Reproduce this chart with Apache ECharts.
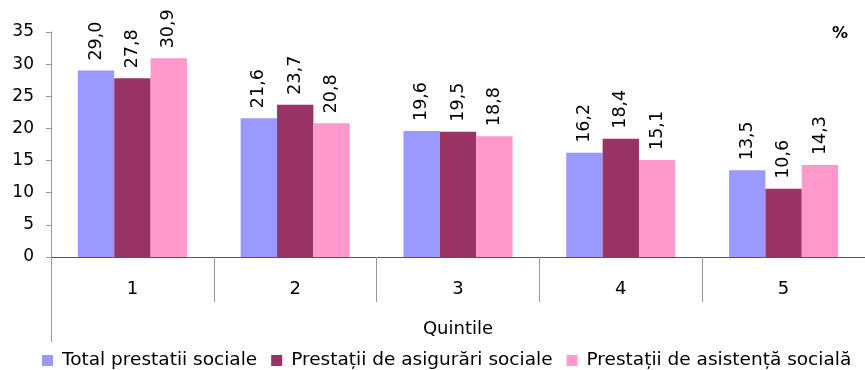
<!DOCTYPE html>
<html>
<head>
<meta charset="utf-8">
<script src="https://cdn.jsdelivr.net/npm/echarts@6/dist/echarts.min.js"></script>
<style>
  html, body { margin: 0; padding: 0; background: #fff; }
  #chart { width: 865px; height: 370px; }
</style>
</head>
<body>
<div id="chart"></div>
<script>
// Quintile categories and shares (%) per benefit type
const quintiles = ['1', '2', '3', '4', '5'];
const seriesNames = [
  'Total prestatii sociale',
  'Prestații de asigurări sociale',
  'Prestații de asistență socială'
];
const totalBenefits = [29.0, 21.6, 19.6, 16.2, 13.5];
const insuranceBenefits = [27.8, 23.7, 19.5, 18.4, 10.6];
const assistanceBenefits = [30.9, 20.8, 18.8, 15.1, 14.3];
const yTicks = [0, 5, 10, 15, 20, 25, 30, 35];

const colors = ['#9999FF', '#993366', '#FF99CC'];
const values = [totalBenefits, insuranceBenefits, assistanceBenefits];
const FONT = '"DejaVu Sans", sans-serif';

const chart = echarts.init(document.getElementById('chart'), null, { renderer: 'canvas' });

const series = values.map((data, i) => ({
  name: seriesNames[i],
  type: 'bar',
  data: data,
  barGap: '0%',
  barCategoryGap: '33%',
  itemStyle: { color: colors[i] },
  label: {
    show: true,
    position: 'top',
    rotate: 90,
    align: 'left',
    verticalAlign: 'middle',
    distance: 10,
    color: '#000',
    fontFamily: FONT,
    fontSize: 17.5,
    formatter: p => p.value.toFixed(1).replace('.', ',')
  }
}));

chart.setOption({
  animation: false,
  color: colors,
  grid: { left: 51, top: 32, width: 819, height: 225, containLabel: false },
  title: {
    text: '%',
    right: 12,
    top: 21,
    textStyle: { fontFamily: FONT, fontSize: 16, fontWeight: 'bold', color: '#000' }
  },
  legend: {
    data: seriesNames,
    left: 42,
    top: 351,
    width: 860,
    padding: 0,
    itemWidth: 11,
    itemHeight: 11,
    itemGap: 14,
    icon: 'rect',
    textStyle: { fontFamily: FONT, fontSize: 18.5, color: '#000', padding: [0, 0, 0, 4] }
  },
  xAxis: {
    type: 'category',
    data: quintiles,
    name: 'Quintile',
    nameLocation: 'middle',
    nameGap: 63,
    nameTextStyle: { fontFamily: FONT, fontSize: 18, color: '#000' },
    axisLine: { lineStyle: { color: '#555', width: 1 } },
    axisTick: { show: true, length: 45, interval: 0, lineStyle: { color: '#999' } },
    axisLabel: { fontFamily: FONT, fontSize: 18, color: '#000', margin: 23 },
    splitLine: { show: false }
  },
  yAxis: {
    type: 'value',
    min: yTicks[0],
    max: yTicks[yTicks.length - 1],
    interval: 5,
    axisLine: { show: true, lineStyle: { color: '#999' } },
    axisTick: { show: true, length: 5, lineStyle: { color: '#999' } },
    axisLabel: { fontFamily: FONT, fontSize: 17, color: '#000', margin: 17 },
    splitLine: { show: false }
  },
  graphic: [{
    // downward continuation of the value axis line
    type: 'line',
    shape: { x1: 51.5, y1: 257, x2: 51.5, y2: 342 },
    style: { stroke: '#999', lineWidth: 1 }
  }],
  series: series
});
</script>
</body>
</html>
